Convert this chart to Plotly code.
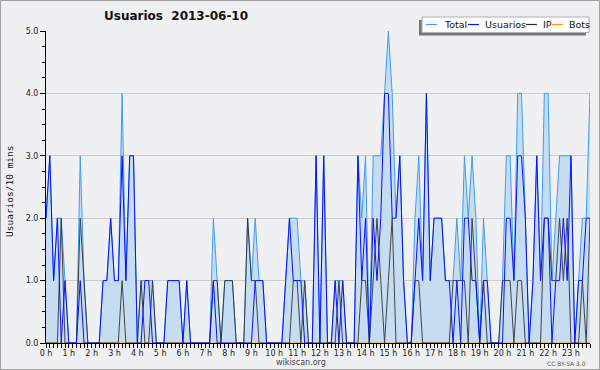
import plotly.graph_objects as go

# --- data (10-minute buckets, 2013-06-10) ---
hours = [i / 6 for i in range(144)]

usuarios = [2, 3, 1, 2, 0, 1, 0, 0, 0, 1, 0, 0, 0, 0, 0, 1, 1, 2, 1, 1, 3, 1, 3, 3,
            0, 0, 1, 1, 0, 0, 0, 0, 1, 1, 1, 1, 0, 1, 0, 0, 0, 0, 0, 0, 1, 0, 0, 0,
            0, 0, 0, 0, 0, 0, 0, 1, 1, 1, 0, 0, 0, 0, 0, 1, 2, 1, 1, 1, 0, 0, 0, 3,
            0, 3, 0, 0, 1, 0, 1, 0, 0, 0, 3, 1, 2, 0, 2, 1, 2, 4, 4, 2, 2, 3, 1, 0,
            0, 1, 2, 1, 4, 1, 2, 2, 2, 1, 1, 0, 1, 0, 2, 2, 1, 1, 0, 1, 1, 0, 0, 0,
            0, 2, 2, 1, 3, 3, 2, 0, 1, 3, 1, 2, 2, 0, 1, 1, 2, 1, 3, 0, 1, 1, 2, 2]

ip = [0, 0, 0, 0, 2, 0, 0, 0, 0, 2, 1, 0, 0, 0, 0, 0, 0, 0, 0, 0, 1, 0, 0, 0,
      0, 1, 0, 0, 1, 0, 0, 0, 0, 0, 0, 0, 0, 0, 0, 0, 0, 0, 0, 0, 1, 1, 0, 1,
      1, 1, 0, 0, 0, 2, 1, 1, 0, 0, 0, 0, 0, 0, 0, 0, 0, 1, 1, 0, 1, 0, 0, 0,
      0, 0, 0, 0, 0, 1, 0, 0, 0, 0, 0, 1, 1, 0, 1, 2, 1, 0, 1, 2, 0, 0, 0, 0,
      0, 1, 1, 0, 0, 0, 0, 0, 0, 0, 0, 1, 1, 1, 1, 0, 2, 1, 0, 1, 0, 0, 0, 0,
      1, 1, 1, 0, 1, 1, 0, 0, 0, 0, 0, 2, 2, 1, 1, 2, 1, 2, 0, 0, 0, 1, 0, 2]

total = [2, 3, 1, 2, 2, 1, 0, 0, 0, 3, 1, 0, 0, 0, 0, 1, 1, 2, 1, 1, 4, 1, 3, 3,
         0, 1, 1, 1, 1, 0, 0, 0, 1, 1, 1, 1, 0, 1, 0, 0, 0, 0, 0, 0, 2, 1, 0, 1,
         1, 1, 0, 0, 0, 2, 1, 2, 1, 1, 0, 0, 0, 0, 0, 1, 2, 2, 2, 1, 1, 0, 0, 3,
         0, 3, 0, 0, 1, 1, 1, 0, 0, 0, 3, 2, 3, 0, 3, 3, 3, 4, 5, 4, 2, 3, 1, 0,
         0, 2, 3, 1, 4, 1, 2, 2, 2, 1, 1, 1, 2, 1, 3, 2, 3, 2, 0, 2, 1, 0, 0, 0,
         1, 3, 3, 1, 4, 4, 2, 0, 1, 3, 1, 4, 4, 1, 2, 3, 3, 3, 3, 0, 1, 2, 2, 4]

bots = [0] * 144

hour_ticks = list(range(24))
hour_labels = [f"{h} h" for h in hour_ticks]
y_ticks = [0, 1, 2, 3, 4, 5]
y_labels = ["0.0", "1.0", "2.0", "3.0", "4.0", "5.0"]

# --- layout geometry (pixels) ---
W, H = 600, 370
L, R, T, B = 46, 10, 31, 27
PW, PH = W - L - R, H - T - B


def px(x):
    return (x - L) / PW


def py(y):
    return (H - B - y) / PH


C_TOTAL = "#3d9df2"
C_FILL = "#c6ddf1"
C_USU = "#0a10ff"
C_IP = "#2a2a2a"
C_BOTS = "#ff9a00"
BG = "#eff0f2"

fig = go.Figure()
fig.add_trace(go.Scatter(x=hours, y=total, mode="lines", name="Total",
                         line=dict(color=C_TOTAL, width=1), fill="tozeroy",
                         fillcolor=C_FILL, showlegend=False))
fig.add_trace(go.Scatter(x=hours, y=bots, mode="lines", name="Bots",
                         line=dict(color=C_BOTS, width=1), showlegend=False))
fig.add_trace(go.Scatter(x=hours, y=ip, mode="lines", name="IP",
                         line=dict(color=C_IP, width=1), opacity=0.85,
                         showlegend=False))
fig.add_trace(go.Scatter(x=hours, y=usuarios, mode="lines", name="Usuarios",
                         line=dict(color=C_USU, width=1), showlegend=False))

shapes = []
annotations = []

# outer border
shapes.append(dict(type="rect", xref="paper", yref="paper",
                   x0=px(0.5), x1=px(599.5), y0=py(0.5), y1=py(369.5),
                   line=dict(color="#a0a0a0", width=1), fillcolor="rgba(0,0,0,0)",
                   layer="above"))

# custom legend: shadow, box, swatches, labels
shapes.append(dict(type="rect", xref="paper", yref="paper",
                   x0=px(419), x1=px(586), y0=py(20), y1=py(35.5),
                   line=dict(width=0), fillcolor="#777777", layer="above"))
shapes.append(dict(type="rect", xref="paper", yref="paper",
                   x0=px(422), x1=px(589), y0=py(17), y1=py(32.5),
                   line=dict(color="#b0b0b0", width=1), fillcolor="#ffffff",
                   layer="above"))
legend_items = [("Total", C_TOTAL, 426, 442), ("Usuarios", C_USU, 468, 483),
                ("IP", C_IP, 526, 541), ("Bots", C_BOTS, 552, 567)]
for name, col, sx, tx in legend_items:
    shapes.append(dict(type="line", xref="paper", yref="paper",
                       x0=px(sx), x1=px(sx + 11), y0=py(24.5), y1=py(24.5),
                       line=dict(color=col, width=1.2), layer="above"))
    annotations.append(dict(text=name, xref="paper", yref="paper",
                            x=px(tx), y=py(24.5), xanchor="left", yanchor="middle",
                            showarrow=False,
                            font=dict(family="DejaVu Sans", size=9.5, color="#111")))

# title, axis title, footer texts
annotations.append(dict(text="<b>Usuarios  2013-06-10</b>", xref="paper", yref="paper",
                        x=px(176), y=py(16), xanchor="center", yanchor="middle",
                        showarrow=False,
                        font=dict(family="DejaVu Sans", size=12, color="#111")))
annotations.append(dict(text="Usuarios/10 mins", xref="paper", yref="paper",
                        x=px(9), y=py(191), xanchor="center", yanchor="middle",
                        textangle=-90, showarrow=False,
                        font=dict(family="DejaVu Sans Mono", size=9.5, color="#111")))
annotations.append(dict(text="wikiscan.org", xref="paper", yref="paper",
                        x=px(301), y=py(362.5), xanchor="center", yanchor="middle",
                        showarrow=False,
                        font=dict(family="DejaVu Sans", size=8, color="#444")))
annotations.append(dict(text="CC BY-SA 3.0", xref="paper", yref="paper",
                        x=px(566), y=py(363), xanchor="center", yanchor="middle",
                        showarrow=False,
                        font=dict(family="DejaVu Sans", size=6, color="#555")))

fig.update_layout(
    width=W, height=H,
    margin=dict(l=L, r=R, t=T, b=B, pad=0),
    paper_bgcolor=BG, plot_bgcolor=BG,
    showlegend=False,
    shapes=shapes, annotations=annotations,
    font=dict(family="DejaVu Sans", size=8, color="#222"),
)
fig.update_xaxes(range=[0, 143 / 6], tickmode="array", tickvals=hour_ticks,
                 ticktext=hour_labels, ticks="outside", ticklen=2, tickcolor="#000",
                 tickwidth=1, showline=True, linecolor="#000", linewidth=1,
                 showgrid=False, zeroline=False,
                 tickfont=dict(family="DejaVu Sans", size=8, color="#222"),
                 minor=dict(tickmode="linear", tick0=0, dtick=1 / 6, ticks="outside",
                            ticklen=4, tickcolor="#000", tickwidth=1, showgrid=False))
fig.update_yaxes(range=[0, 5], tickmode="array", tickvals=y_ticks, ticktext=y_labels,
                 ticks="outside", ticklen=5, tickcolor="#000", tickwidth=1,
                 showline=True, linecolor="#000", linewidth=1,
                 showgrid=True, gridcolor="#cccccc", gridwidth=1, zeroline=False,
                 tickfont=dict(family="DejaVu Sans", size=8, color="#222"),
                 minor=dict(tickmode="linear", tick0=0, dtick=0.25, ticks="outside",
                            ticklen=3, tickcolor="#000", tickwidth=1, showgrid=False))

fig.write_html("out.html", config={"displayModeBar": False},
               post_script="document.body.style.margin='0';document.body.style.overflow='hidden';")
